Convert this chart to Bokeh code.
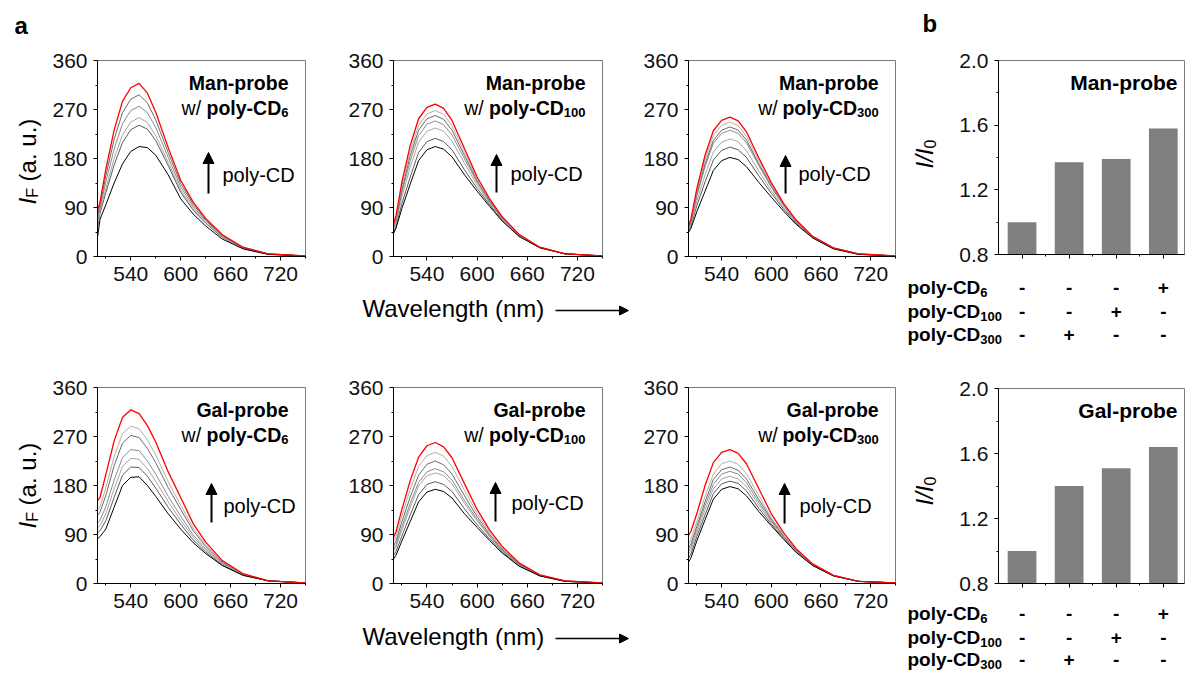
import math
from bokeh.plotting import figure
from bokeh.layouts import row, column
from bokeh.models import Range1d, FixedTicker, PrintfTickFormatter, Arrow, NormalHead, Spacer
from bokeh.core.properties import value
from bokeh.embed import file_html
from bokeh.resources import INLINE

FONT = "Liberation Sans"
INK = "#000000"

# ---------------- data ----------------
wavelength = [500, 503, 510, 520, 530, 540, 550, 560, 570, 585, 600, 615, 630, 650, 675, 705, 750]
x_ticks = [540, 600, 660, 720]
x_minor = [510, 570, 630, 690, 750]
y_ticks = [0, 90, 180, 270, 360]
y_minor = [45, 135, 225, 315]

# each panel: black (no poly-CD) ... grey titration steps ... red (final)
man_cd6 = [
    [35, 68, 95, 135, 170, 193, 202, 200, 186, 150, 106, 78, 56, 32, 14, 4, 1],
    [52, 79, 117, 168, 209, 233, 241, 234, 213, 167, 118, 85, 61, 35, 15, 4, 1],
    [58, 83, 125, 180, 223, 247, 255, 246, 222, 173, 122, 88, 62, 36, 15, 4, 1],
    [66, 88, 137, 197, 244, 268, 276, 264, 237, 182, 128, 92, 65, 37, 16, 5, 1],
    [75, 94, 148, 215, 264, 289, 297, 282, 251, 191, 134, 96, 67, 39, 16, 5, 1],
    [84, 100, 160, 232, 285, 310, 318, 300, 265, 200, 140, 100, 70, 40, 17, 5, 1],
]
man_cd100 = [
    [42, 52, 88, 133, 176, 196, 202, 197, 183, 150, 120, 92, 65, 37, 16, 5, 1],
    [45, 56, 97, 146, 191, 211, 217, 211, 196, 159, 125, 95, 67, 38, 16, 5, 1],
    [50, 62, 109, 164, 210, 230, 236, 230, 212, 171, 131, 98, 69, 39, 16, 5, 1],
    [53, 66, 117, 176, 222, 243, 249, 242, 223, 179, 136, 100, 70, 39, 17, 5, 1],
    [55, 69, 123, 185, 232, 253, 259, 252, 232, 185, 139, 102, 71, 40, 17, 5, 1],
    [57, 72, 129, 193, 241, 262, 268, 261, 240, 191, 142, 104, 72, 40, 17, 5, 1],
    [60, 75, 136, 204, 253, 274, 280, 272, 250, 198, 146, 106, 73, 41, 17, 5, 1],
]
man_cd300 = [
    [44, 52, 82, 120, 158, 176, 182, 178, 165, 136, 109, 83, 59, 34, 14, 4, 1],
    [47, 56, 93, 137, 177, 195, 201, 196, 182, 148, 116, 87, 61, 35, 15, 4, 1],
    [50, 60, 101, 150, 192, 210, 216, 211, 194, 157, 121, 89, 63, 35, 15, 4, 1],
    [52, 64, 111, 165, 208, 226, 232, 226, 209, 167, 127, 93, 64, 36, 15, 5, 1],
    [53, 65, 114, 170, 213, 232, 238, 232, 214, 170, 130, 94, 65, 36, 16, 5, 1],
    [55, 67, 119, 178, 222, 241, 247, 240, 221, 176, 133, 95, 66, 37, 16, 5, 1],
    [56, 69, 124, 186, 231, 250, 256, 249, 229, 181, 136, 97, 67, 37, 16, 5, 1],
]
gal_cd6 = [
    [82, 86, 100, 140, 180, 195, 196, 180, 160, 128, 100, 75, 55, 33, 15, 5, 1],
    [93, 97, 115, 158, 199, 214, 213, 197, 175, 140, 109, 80, 58, 34, 15, 5, 1],
    [102, 106, 128, 174, 215, 230, 228, 211, 188, 150, 116, 85, 61, 36, 16, 5, 1],
    [111, 116, 141, 190, 231, 246, 244, 225, 201, 160, 124, 89, 64, 37, 16, 5, 1],
    [125, 131, 162, 216, 258, 272, 268, 248, 222, 176, 136, 97, 68, 39, 17, 5, 1],
    [135, 141, 176, 233, 275, 289, 284, 264, 236, 187, 144, 102, 71, 40, 17, 5, 1],
    [152, 158, 200, 262, 305, 319, 312, 290, 260, 205, 158, 110, 76, 42, 18, 5, 1],
]
gal_cd100 = [
    [45, 52, 78, 114, 150, 168, 173, 169, 157, 128, 103, 79, 56, 32, 14, 4, 1],
    [51, 59, 87, 126, 163, 182, 187, 182, 169, 137, 108, 82, 58, 33, 14, 4, 1],
    [59, 67, 98, 140, 179, 198, 203, 198, 183, 147, 115, 86, 60, 34, 15, 4, 1],
    [63, 71, 104, 147, 186, 205, 211, 205, 190, 152, 118, 87, 61, 35, 15, 4, 1],
    [69, 78, 113, 159, 199, 219, 225, 218, 201, 161, 123, 90, 63, 36, 15, 5, 1],
    [77, 86, 124, 173, 215, 235, 241, 234, 215, 171, 129, 94, 65, 37, 16, 5, 1],
    [85, 95, 136, 189, 232, 253, 259, 251, 231, 183, 136, 98, 68, 38, 16, 5, 1],
]
gal_cd300 = [
    [39, 47, 78, 117, 155, 173, 178, 174, 161, 132, 106, 81, 57, 33, 14, 4, 1],
    [46, 54, 86, 126, 165, 183, 188, 184, 170, 138, 109, 83, 58, 33, 14, 4, 1],
    [53, 61, 92, 135, 174, 192, 197, 192, 178, 144, 112, 84, 59, 34, 14, 4, 1],
    [59, 67, 99, 143, 182, 201, 206, 201, 185, 149, 115, 86, 60, 34, 14, 4, 1],
    [65, 73, 105, 150, 191, 209, 214, 208, 192, 154, 118, 87, 61, 35, 15, 4, 1],
    [73, 81, 113, 160, 201, 220, 225, 219, 202, 161, 121, 89, 62, 35, 15, 4, 1],
    [88, 96, 128, 180, 222, 241, 246, 239, 220, 174, 128, 93, 64, 36, 15, 4, 1],
]

conditions = [1, 2, 3, 4]
man_ratio = [1.00, 1.37, 1.39, 1.58]
gal_ratio = [1.00, 1.40, 1.51, 1.64]
bar_ticks = [0.8, 1.2, 1.6, 2.0]
bar_minor = [1.0, 1.4, 1.8]
cd6_signs = ["-", "-", "-", "+"]
cd100_signs = ["-", "-", "+", "-"]
cd300_signs = ["-", "+", "-", "-"]
table_rows = [("6", cd6_signs), ("100", cd100_signs), ("300", cd300_signs)]

GRAYS = ["#5a5a5a", "#a6a6a6", "#8c8c8c", "#6a6a6a", "#b0b0b0", "#4f4f4f"]

TICK_PX = 21

# ---------------- helpers ----------------
def txt(p, x, y, s, size, style="normal", align="left", baseline="middle", angle=0.0, color=INK):
    p.text(x=[x], y=[y], text=[s], text_font=value(FONT), text_font_size=f"{size}px",
           text_font_style=style, text_align=align, text_baseline=baseline, angle=angle,
           text_color=color)


def style_axes(p):
    p.grid.visible = False
    p.outline_line_color = "#7a7a7a"
    for ax in p.axis:
        ax.axis_line_color = "black"
        ax.axis_line_width = 1
        ax.major_tick_line_color = "black"
        ax.major_tick_out = 4
        ax.major_tick_in = 0
        ax.minor_tick_line_color = "black"
        ax.minor_tick_out = 2
        ax.minor_tick_in = 0
        ax.major_label_text_font = FONT
        ax.major_label_text_font_size = f"{TICK_PX}px"
        ax.major_label_text_color = "#111111"
        ax.major_label_standoff = 6


def pixel_strip(w, h):
    p = figure(width=w, height=h, x_range=Range1d(0, w), y_range=Range1d(0, h),
               x_axis_type=None, y_axis_type=None, output_backend="svg",
               toolbar_location=None, min_border=0, outline_line_color=None)
    return p


FH = 196


def spectrum(width, bl, br, height, bt, bb, curves, probe, sub, arrow_dx, tip, tail, tdx, tdy):
    fw = width - bl - br
    p = figure(width=width, height=height, x_range=Range1d(500, 750), y_range=Range1d(0, 360),
               output_backend="svg", toolbar_location=None,
               min_border_left=bl, min_border_right=br, min_border_top=bt, min_border_bottom=bb)
    style_axes(p)
    p.xaxis.ticker = FixedTicker(ticks=x_ticks, minor_ticks=x_minor)
    p.yaxis.ticker = FixedTicker(ticks=y_ticks, minor_ticks=y_minor)
    n = len(curves)
    for i in range(1, n - 1):
        p.line(wavelength, curves[i], line_color=GRAYS[(i - 1) % len(GRAYS)], line_width=1)
    p.line(wavelength, curves[0], line_color="black", line_width=1)
    p.line(wavelength, curves[-1], line_color="#ff0000", line_width=1.3)

    sx = 250.0 / fw
    sy = 360.0 / FH
    fs = 19.5
    xr = 750 - 17 * sx
    txt(p, xr, 360 - 22 * sy, probe, fs, "bold", "right")
    y2 = 360 - 47 * sy
    ws = 0.556 * len(sub) * 13
    wp = 3.833 * fs
    txt(p, xr, y2 - 5 * sy, sub, 13, "bold", "right")
    txt(p, xr - ws * sx, y2, "poly-CD", fs, "bold", "right")
    txt(p, xr - (ws + wp + 0.278 * fs) * sx, y2, "w/", fs, "normal", "right")

    ax = 500 + arrow_dx * sx
    p.add_layout(Arrow(end=NormalHead(size=11, fill_color="black", line_color="black"),
                       x_start=ax, y_start=360 - tail * sy, x_end=ax, y_end=360 - tip * sy,
                       line_width=2, line_color="black"))
    txt(p, 500 + tdx * sx, 360 - tdy * sy, "poly-CD", 20)
    return p


BAR_X0, BAR_X1 = 0.5, 4.45
BAR_FW = 186
PPU = BAR_FW / (BAR_X1 - BAR_X0)


def bars(height, bt, bb, ratio, probe):
    fh = height - bt - bb
    p = figure(width=240, height=height, x_range=Range1d(BAR_X0, BAR_X1), y_range=Range1d(0.8, 2.0),
               output_backend="svg", toolbar_location=None,
               min_border_left=53, min_border_right=1, min_border_top=bt, min_border_bottom=bb)
    style_axes(p)
    p.xaxis.ticker = FixedTicker(ticks=conditions, minor_ticks=[1.5, 2.5, 3.5])
    p.xaxis.major_label_overrides = {c: "" for c in conditions}
    p.xaxis.major_label_text_font_size = "0px"
    p.xaxis.major_label_standoff = 0
    p.yaxis.ticker = FixedTicker(ticks=bar_ticks, minor_ticks=bar_minor)
    p.yaxis.formatter = PrintfTickFormatter(format="%.1f")
    p.vbar(x=conditions, top=ratio, bottom=0, width=0.61, fill_color="#7f7f7f", line_color=None)
    txt(p, BAR_X0 + (1177 - 998) / PPU, 2.0 - 22 * 1.2 / fh, probe, 21, "bold", "right")
    return p


def table(h, rows_y):
    xs = BAR_X0 - 98 / PPU
    p = figure(width=285, height=h, x_range=Range1d(xs, xs + 285 / PPU), y_range=Range1d(0, h),
               x_axis_type=None, y_axis_type=None, output_backend="svg",
               toolbar_location=None, min_border=0, outline_line_color=None)
    for (sub, signs), y in zip(table_rows, rows_y):
        txt(p, xs + 7 / PPU, y, "poly-CD", 19, "bold", "left")
        txt(p, xs + (7 + 3.833 * 19) / PPU, y - 5, sub, 13, "bold", "left")
        p.text(x=conditions, y=[y] * len(conditions), text=signs, text_font=value(FONT),
               text_font_size="19px", text_font_style="bold", text_align="center",
               text_baseline="middle", text_color=INK)
    return p


def y_label_IF(p, x, y0):
    a = math.pi / 2
    txt(p, x, y0, "I", 24, "italic", "left", "middle", a)
    txt(p, x + 5, y0 + 0.278 * 24, "F", 16, "normal", "left", "middle", a)
    txt(p, x, y0 + 0.278 * 24 + 0.611 * 16 + 0.278 * 24, "(a. u.)", 24, "normal", "left", "middle", a)


def y_label_ratio(p, x, y0):
    a = math.pi / 2
    txt(p, x, y0, "I/I", 24, "italic", "left", "middle", a)
    txt(p, x + 5, y0 + 0.834 * 24, "0", 16, "normal", "left", "middle", a)


def wavelength_strip(h, yc, ya):
    p = pixel_strip(300, h)
    txt(p, 22, yc, "Wavelength (nm)", 24)
    p.add_layout(Arrow(end=NormalHead(size=9, fill_color="black", line_color="black"),
                       x_start=215, y_start=ya, x_end=288, y_end=ya,
                       line_width=1.5, line_color="black"))
    return row(p)


# ---------------- layout ----------------
# column 0: panel letter + y labels (page y = 673 - local y)
c0 = pixel_strip(40, 665)
txt(c0, 6, 648, "a", 24, "bold", "left", "middle")
y_label_IF(c0, 19, 469)
y_label_IF(c0, 19, 145)

TOP_H, TOP_BT, TOP_BB = 284, 52, 36
BOT_H, BOT_BT, BOT_BB = 265, 32, 37

tl = spectrum(292, 49, 35, TOP_H, TOP_BT, TOP_BB, man_cd6, "Man-probe", "6", 111, 92, 133, 125, 114)
tm = spectrum(300, 53, 38, TOP_H, TOP_BT, TOP_BB, man_cd100, "Man-probe", "100", 103, 94, 132, 117, 113)
tr = spectrum(260, 46, 5, TOP_H, TOP_BT, TOP_BB, man_cd300, "Man-probe", "300", 98, 95, 133, 111, 113)
bl = spectrum(292, 49, 35, BOT_H, BOT_BT, BOT_BB, gal_cd6, "Gal-probe", "6", 114, 96, 135, 126, 118)
bm = spectrum(300, 53, 38, BOT_H, BOT_BT, BOT_BB, gal_cd100, "Gal-probe", "100", 102, 95, 134, 118, 115)
br = spectrum(260, 46, 5, BOT_H, BOT_BT, BOT_BB, gal_cd300, "Gal-probe", "300", 97, 96, 136, 112, 118)

c1 = column(tl, Spacer(width=292, height=63), bl, Spacer(width=292, height=53))
c2 = column(tm, wavelength_strip(63, 47, 45), bm, wavelength_strip(53, 37, 35))
c3 = column(tr, Spacer(width=260, height=63), br, Spacer(width=260, height=53))

s_top = pixel_strip(45, 256)
txt(s_top, 22, 241, "b", 24, "bold", "left", "middle")
y_label_ratio(s_top, 24, 96)
s_bot = pixel_strip(45, 241)
y_label_ratio(s_bot, 24, 88)

bar_top = bars(256, 52, 10, man_ratio, "Man-probe")
bar_bot = bars(241, 36, 10, gal_ratio, "Gal-probe")

c4 = column(row(column(s_top), bar_top), table(88, [65, 41, 18]),
            row(column(s_bot), bar_bot), table(80, [60, 36, 14]))

layout = column(Spacer(width=1185, height=8),
                row(Spacer(width=8, height=665), c0, c1, c2, c3, c4))

open("out.html", "w").write(file_html(layout, INLINE))
